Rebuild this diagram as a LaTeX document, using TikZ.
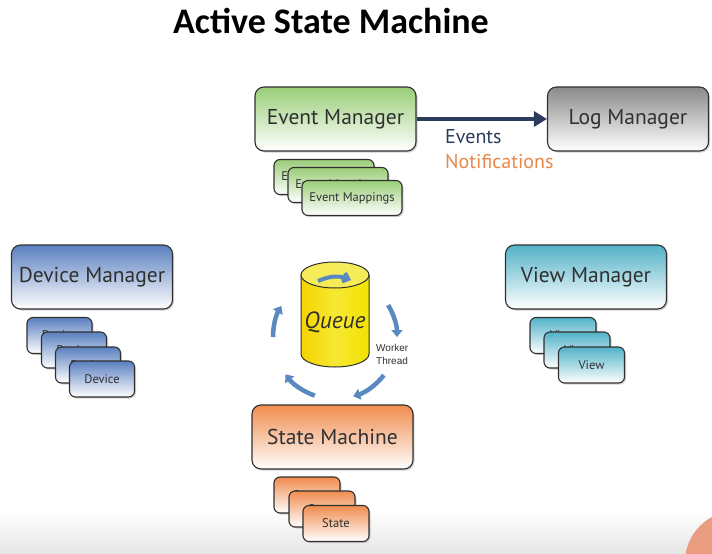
\documentclass[tikz,border=0pt]{standalone}
\usepackage{fontspec}
\setmainfont{PT Sans}
\newfontfamily\titlefont{Carlito}
\newfontfamily\smallfont{Liberation Sans}
\usetikzlibrary{shadows,arrows.meta}
\definecolor{txt}{HTML}{303030}
\definecolor{greenT}{HTML}{9ACD78}
\definecolor{blueT}{HTML}{5A80C0}
\definecolor{tealT}{HTML}{52B2C8}
\definecolor{orangeT}{HTML}{F08C4E}
\definecolor{greyT}{HTML}{8A8A8A}
\definecolor{navy}{HTML}{2C3C5C}
\definecolor{evblue}{HTML}{2C3C5C}
\definecolor{notor}{HTML}{E8884A}
\definecolor{circ}{HTML}{5A88C0}
\definecolor{qyellow}{HTML}{F4E200}
\definecolor{qtop}{HTML}{F6EC5A}
\definecolor{logo}{HTML}{EA9C80}
\tikzset{
  box/.style={draw=txt, line width=1.1pt, rounded corners=9pt, text=txt,
    drop shadow={shadow xshift=1.5pt, shadow yshift=-1.5pt, opacity=0.35},
    font=\fontsize{21.5}{23}\selectfont, inner sep=0pt},
  mgr/.style={box, minimum width=161pt, minimum height=64pt},
  sub/.style={box, rounded corners=6pt, font=\fontsize{12.5}{14}\selectfont},
  subw/.style={sub, minimum width=100pt, minimum height=35pt},
  subn/.style={sub, minimum width=66pt, minimum height=36pt},
  gfill/.style={top color=greenT, bottom color=white},
  bfill/.style={top color=blueT, bottom color=white},
  tfill/.style={top color=tealT, bottom color=white},
  ofill/.style={top color=orangeT, bottom color=white},
  kfill/.style={top color=greyT, bottom color=white},
  circarrow/.style={draw=circ, line width=4.5pt, -{Triangle[length=7pt,width=11pt]}},
}
\begin{document}
\begin{tikzpicture}[x=1pt,y=1pt]
\useasboundingbox (0,0) rectangle (712,-554);
\fill[white] (0,0) rectangle (712,-554);
\shade[top color=white, bottom color=black!10] (0,-510) rectangle (712,-554);
\begin{scope}
\clip (0,0) rectangle (712,-554);
\fill[logo] (736,-562) circle (51);
\end{scope}

% title
\node[font=\titlefont\bfseries\fontsize{36}{40}\selectfont, text=black] (title) at (331,-21) {Active State Machine};

% managers
\node[mgr, gfill] (em) at (335.5,-119) {Event Manager};
\node[mgr, kfill] (lm) at (628,-119) {Log Manager};
\node[mgr, bfill] (dm) at (92,-277) {Device Manager};
\node[mgr, tfill] (vm) at (586,-277) {View Manager};
\node[mgr, ofill] (sm) at (332.5,-437) {State Machine};

% event mapping stack
\node[subw, gfill] (em1) at (324,-177) {Event Mappings};
\node[subw, gfill] (em2) at (338,-185) {Event Mappings};
\node[subw, gfill] (em3) at (352,-198) {Event Mappings};

% device stack
\node[subn, bfill, minimum width=65pt] (d1) at (59.5,-335.5) {Device};
\node[subn, bfill, minimum width=65pt] (d2) at (74,-350) {Device};
\node[subn, bfill, minimum width=65pt] (d3) at (88,-365) {Device};
\node[subn, bfill, minimum width=65pt] (d4) at (102,-379) {Device};

% view stack
\node[subn, tfill] (v1) at (563,-335.5) {View};
\node[subn, tfill] (v2) at (577,-350) {View};
\node[subn, tfill] (v3) at (591.5,-365) {View};

% state stack
\node[subn, ofill] (s1) at (307,-495) {State};
\node[subn, ofill] (s2) at (322,-509) {State};
\node[subn, ofill] (s3) at (336,-523.5) {State};

% arrow events
\draw[navy, line width=4pt, -{Triangle[length=13pt,width=15pt]}] (em.east) -- (lm.west);
\node[anchor=west, text=evblue, font=\fontsize{20}{22}\selectfont, inner sep=0pt] (ev) at (445,-137) {Events};
\node[anchor=west, text=notor, font=\fontsize{20}{22}\selectfont, inner sep=0pt] (nt) at (445,-162) {Notifications};

% queue cylinder
\coordinate (qc) at (335,-337);
\path[draw=txt, line width=1pt, left color=qyellow!85!orange, right color=qyellow, middle color=qyellow!80!white]
  (301,-275) -- (301,-354) arc[start angle=180, end angle=360, x radius=34, y radius=13] -- (369,-275) -- cycle;
\draw[txt, line width=1pt, fill=qtop] (335,-275) ellipse [x radius=34, y radius=13];
\node[font=\itshape\fontsize{23.5}{25}\selectfont, text=txt] (q) at (335,-322) {Queue};
\draw[circ, line width=4pt, -{Straight Barb[length=5pt,width=9pt]}] (318,-281) to[bend left=22] (351,-280);

% circular arrows
\draw[circarrow] ([shift={(180:62)}]qc) arc[start angle=180, end angle=150, radius=62];
\draw[circarrow] ([shift={(31:62)}]qc) arc[start angle=31, end angle=0, radius=62];
\draw[circarrow] ([shift={(-38:62)}]qc) arc[start angle=-38, end angle=-73, radius=62];
\draw[circarrow] ([shift={(-109:62)}]qc) arc[start angle=-109, end angle=-143, radius=62];

\node[anchor=north west, align=left, text=txt, font=\smallfont\fontsize{10}{13}\selectfont, inner sep=0pt] (wt) at (376,-344) {Worker\\Thread};
\end{tikzpicture}
\end{document}
